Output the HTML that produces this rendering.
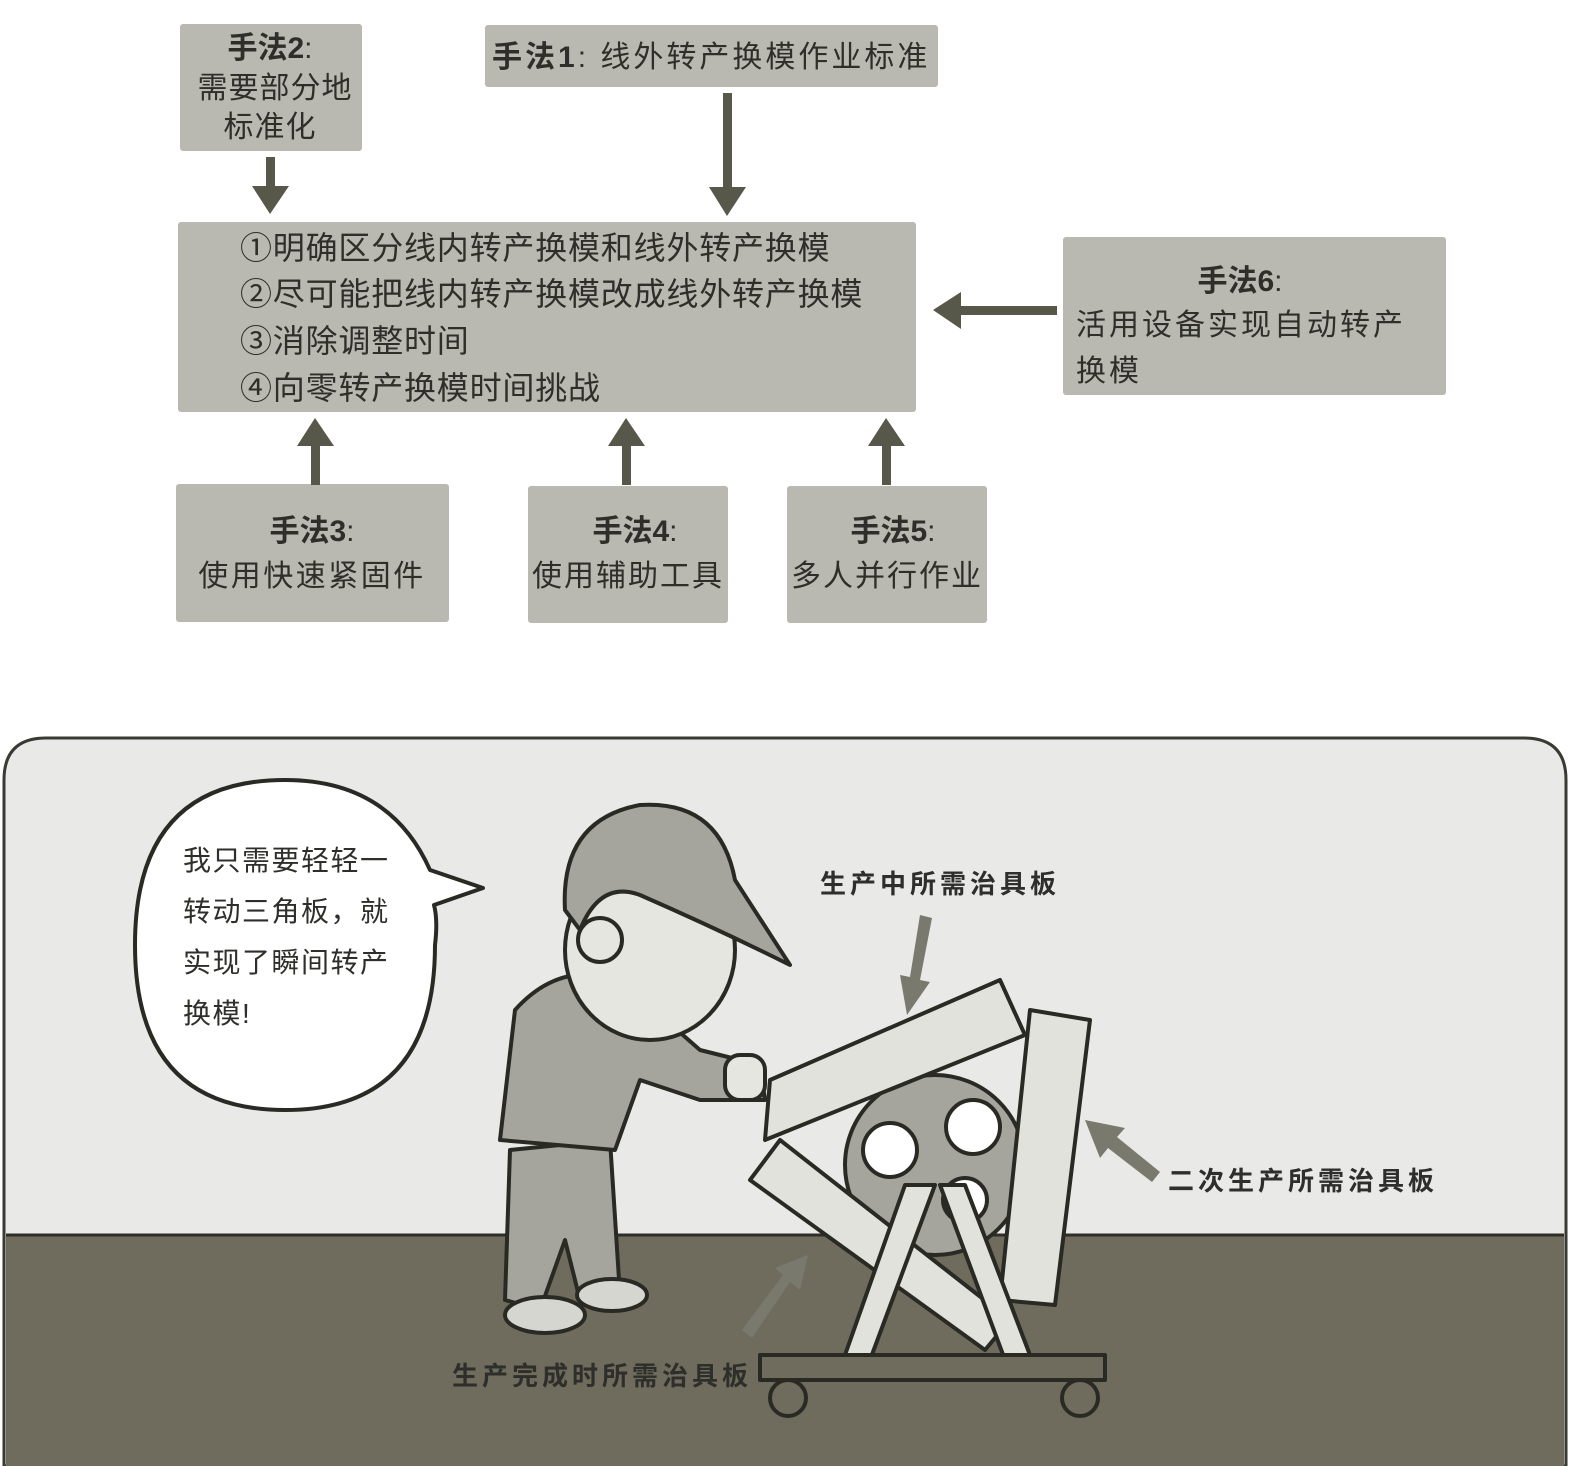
<!DOCTYPE html>
<html><head><meta charset="utf-8"><style>
html,body{margin:0;padding:0;background:#fff}
svg{display:block}
text{font-family:"Liberation Sans","Noto Sans CJK SC",sans-serif;fill:#2e2e2a}
</style></head><body>
<svg width="1572" height="1466" viewBox="0 0 1572 1466" xmlns="http://www.w3.org/2000/svg">
<g fill="#bab9b1">
<rect x="180" y="24" width="182" height="127" rx="3"/>
<rect x="485" y="25" width="453" height="62" rx="3"/>
<rect x="178" y="222" width="738" height="190" rx="3"/>
<rect x="1063" y="237" width="383" height="158" rx="3"/>
<rect x="176" y="484" width="273" height="138" rx="3"/>
<rect x="528" y="486" width="200" height="137" rx="3"/>
<rect x="787" y="486" width="200" height="137" rx="3"/>
</g>
<g fill="#57574a">
<rect x="266" y="157" width="9" height="30"/><polygon points="252,186 289,186 270,214"/>
<rect x="723" y="93" width="9" height="95"/><polygon points="709,187 746,187 727,216"/>
<rect x="960" y="306" width="97" height="9"/><polygon points="961,292 961,329 933,310"/>
<rect x="311" y="445" width="9" height="40"/><polygon points="297,446 334,446 315,418"/>
<rect x="622" y="445" width="9" height="40"/><polygon points="608,446 645,446 626,418"/>
<rect x="882" y="445" width="9" height="40"/><polygon points="868,446 905,446 886,418"/>
</g>
<g font-size="30">
<text x="270" y="58" text-anchor="middle" font-weight="bold">手法2<tspan font-weight="normal">:</tspan></text>
<text x="275" y="98" text-anchor="middle" letter-spacing="1">需要部分地</text>
<text x="270" y="137" text-anchor="middle" letter-spacing="1">标准化</text>
<text x="492" y="67" letter-spacing="3"><tspan font-weight="bold">手法1</tspan>: 线外转产换模作业标准</text>
<g font-size="32" letter-spacing="0.8">
<text x="240" y="259">①明确区分线内转产换模和线外转产换模</text>
<text x="240" y="305">②尽可能把线内转产换模改成线外转产换模</text>
<text x="240" y="352">③消除调整时间</text>
<text x="240" y="399">④向零转产换模时间挑战</text>
</g>
<text x="1240" y="291" text-anchor="middle" font-weight="bold">手法6<tspan font-weight="normal">:</tspan></text>
<text x="1076" y="335" letter-spacing="3">活用设备实现自动转产</text>
<text x="1076" y="381" letter-spacing="3">换模</text>
<text x="312" y="541" text-anchor="middle" font-weight="bold">手法3<tspan font-weight="normal">:</tspan></text>
<text x="312" y="586" text-anchor="middle" letter-spacing="2.5">使用快速紧固件</text>
<text x="635" y="541" text-anchor="middle" font-weight="bold">手法4<tspan font-weight="normal">:</tspan></text>
<text x="628" y="586" text-anchor="middle" letter-spacing="2">使用辅助工具</text>
<text x="893" y="541" text-anchor="middle" font-weight="bold">手法5<tspan font-weight="normal">:</tspan></text>
<text x="887" y="586" text-anchor="middle" letter-spacing="2">多人并行作业</text>
</g>
<path d="M4,1466 V780 Q4,738 46,738 H1524 Q1566,738 1566,780 V1466 Z" fill="#e9e9e7" stroke="#3a3a34" stroke-width="3"/>
<rect x="6" y="1235" width="1558" height="231" fill="#6f6c5e"/>
<line x1="6" y1="1235" x2="1564" y2="1235" stroke="#2e2e28" stroke-width="3"/>
<path d="M430,870 Q390,780 285,780 Q135,780 135,945 Q135,1110 285,1110 Q435,1110 435,945 Q438,920 434,905 L483,888 Z" fill="#fff" stroke="#2a2a25" stroke-width="4" stroke-linejoin="round"/>
<g font-size="28" letter-spacing="1.5">
<text x="183" y="870">我只需要轻轻一</text>
<text x="183" y="921">转动三角板，就</text>
<text x="183" y="972">实现了瞬间转产</text>
<text x="183" y="1023">换模!</text>
</g>
<g stroke="#2a2a25" stroke-width="4" stroke-linejoin="round">
<circle cx="935" cy="1165" r="90" fill="#a6a59d"/>
<circle cx="890" cy="1150" r="27" fill="#fff"/>
<circle cx="973" cy="1127" r="27" fill="#fff"/>
<circle cx="965" cy="1200" r="22" fill="#fff"/>
<polygon points="1030,1010 1090,1020 1055,1305 1000,1300" fill="#e2e2dc"/>
<polygon points="770,1080 1000,980 1025,1035 765,1140" fill="#e2e2dc"/>
<polygon points="750,1180 780,1140 1010,1320 985,1350" fill="#e2e2dc"/>
<polygon points="845,1355 905,1185 935,1185 870,1360" fill="#e2e2dc"/>
<polygon points="940,1185 965,1185 1030,1355 1005,1360" fill="#e2e2dc"/>
<rect x="760" y="1355" width="345" height="25" fill="#6f6c5e"/>
<circle cx="788" cy="1398" r="18" fill="#6f6c5e"/>
<circle cx="1080" cy="1398" r="18" fill="#6f6c5e"/>
</g>
<g stroke="#2a2a25" stroke-width="4" stroke-linejoin="round">
<path d="M510,1150 L505,1300 L540,1310 L565,1240 L580,1300 L620,1295 L610,1140 Z" fill="#a6a59d"/>
<ellipse cx="545" cy="1315" rx="40" ry="18" fill="#d6d6d0"/>
<ellipse cx="612" cy="1295" rx="35" ry="16" fill="#d6d6d0"/>
<path d="M500,1140 L515,1010 Q560,960 620,980 L700,1050 L760,1065 L765,1100 L700,1100 L640,1080 L615,1150 Z" fill="#a6a59d"/>
<ellipse cx="650" cy="950" rx="85" ry="90" fill="#e6e6e0"/>
<path d="M565,910 Q560,820 640,805 Q720,800 735,880 L790,965 Q720,930 640,895 Q600,880 580,930 Z" fill="#a6a59d"/>
<circle cx="600" cy="940" r="22" fill="#e6e6e0"/>
<rect x="725" y="1055" width="40" height="45" rx="15" fill="#e6e6e0"/>
</g>
<g fill="#7a796e">
<polygon points="920,915 932,918 920,980 930,982 907,1015 900,975 910,977"/>
<polygon points="1160,1172 1152,1182 1108,1148 1100,1158 1085,1120 1125,1128 1117,1137"/>
<polygon points="742,1330 752,1338 790,1282 800,1290 808,1255 775,1268 783,1275"/>
</g>
<g font-size="26" font-weight="bold" letter-spacing="4">
<text x="820" y="893">生产中所需治具板</text>
<text x="1168" y="1190">二次生产所需治具板</text>
<text x="452" y="1385">生产完成时所需治具板</text>
</g>
</svg>
</body></html>
